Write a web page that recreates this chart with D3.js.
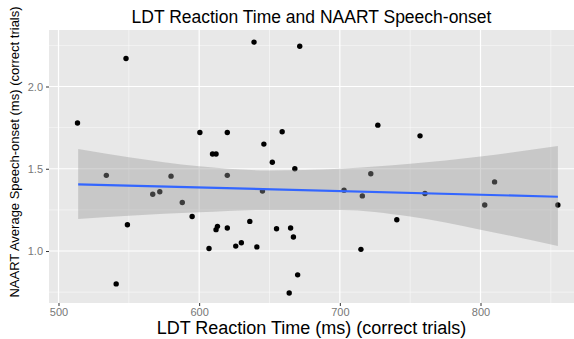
<!DOCTYPE html>
<html>
<head>
<meta charset="utf-8">
<script src="https://cdn.jsdelivr.net/npm/d3@7"></script>
<style>
  body { margin: 0; background: #fff; }
  svg { display: block; font-family: "Liberation Sans", Arial, sans-serif; }
</style>
</head>
<body>
<figure id="scatter" style="margin:0"></figure>
<script>
// LDT reaction time (ms) and NAART speech-onset, one pair per participant
const rt = [513.5, 548, 534, 549, 541, 567, 572, 580, 588, 595, 600.5, 639, 671.5, 620, 609.5, 612,
  646, 659, 652, 668, 620, 727, 722, 703, 613, 612, 620, 607, 626, 630, 636, 641, 655, 665, 667,
  670, 664, 645, 716, 715, 757, 810, 760.5, 740.5, 803, 855];
const onset = [1.778, 2.17, 1.46, 1.16, 0.80, 1.345, 1.36, 1.455, 1.295, 1.21, 1.72, 2.27, 2.245, 1.72, 1.59, 1.59,
  1.65, 1.725, 1.54, 1.50, 1.46, 1.765, 1.47, 1.37, 1.15, 1.13, 1.14, 1.015, 1.03, 1.05, 1.18, 1.025, 1.135, 1.14, 1.085,
  0.855, 0.745, 1.365, 1.335, 1.01, 1.70, 1.42, 1.35, 1.19, 1.28, 1.28];

// fitted line and confidence band
const fitX = [514, 855];
const fitY = [1.405, 1.33];
const bandX = [514, 550, 600, 650, 700, 750, 800, 855];
const bandLo = [1.195, 1.215, 1.235, 1.25, 1.25, 1.21, 1.13, 1.03];
const bandHi = [1.62, 1.57, 1.515, 1.49, 1.50, 1.53, 1.575, 1.638];

const xTicks = [500, 600, 700, 800];
const xMinor = [550, 650, 750, 850];
const yTicks = [1.0, 1.5, 2.0];
const yMinor = [0.75, 1.25, 1.75, 2.25];

const W = 574, H = 339;
const margin = { top: 30, right: 0, bottom: 36, left: 49 };
const width = W - margin.left - margin.right;
const height = H - margin.top - margin.bottom;

const svg = d3.select("figure#scatter")
  .append("svg")
  .attr("width", W)
  .attr("height", H);

const g = svg.append("g")
  .attr("transform", "translate(" + margin.left + "," + margin.top + ")");

const x = d3.scaleLinear().domain([493.25, 866.46]).range([0, width]);
const y = d3.scaleLinear().domain([0.684, 2.3435]).range([height, 0]);

// panel
g.append("rect")
  .attr("width", width)
  .attr("height", height)
  .attr("fill", "#E8E8E8");

// grid
g.selectAll(".xminor").data(xMinor).enter().append("line")
  .attr("x1", d => x(d)).attr("x2", d => x(d))
  .attr("y1", 0).attr("y2", height)
  .attr("stroke", "#fff").attr("stroke-width", 0.6).attr("opacity", 0.8);
g.selectAll(".yminor").data(yMinor).enter().append("line")
  .attr("y1", d => y(d)).attr("y2", d => y(d))
  .attr("x1", 0).attr("x2", width)
  .attr("stroke", "#fff").attr("stroke-width", 0.6).attr("opacity", 0.8);
g.selectAll(".xmajor").data(xTicks).enter().append("line")
  .attr("x1", d => x(d)).attr("x2", d => x(d))
  .attr("y1", 0).attr("y2", height)
  .attr("stroke", "#fff").attr("stroke-width", 1.2);
g.selectAll(".ymajor").data(yTicks).enter().append("line")
  .attr("y1", d => y(d)).attr("y2", d => y(d))
  .attr("x1", 0).attr("x2", width)
  .attr("stroke", "#fff").attr("stroke-width", 1.2);

// points
g.selectAll(".pt").data(rt).enter().append("circle")
  .attr("cx", d => x(d))
  .attr("cy", (d, i) => y(onset[i]))
  .attr("r", 2.7)
  .attr("fill", "#000");

// confidence band (drawn over the points, like geom_smooth)
const area = d3.area()
  .x((d, i) => x(bandX[i]))
  .y0((d, i) => y(bandLo[i]))
  .y1((d, i) => y(bandHi[i]))
  .curve(d3.curveMonotoneX);
g.append("path")
  .datum(bandX)
  .attr("d", area)
  .attr("fill", "#999999")
  .attr("fill-opacity", 0.4);

const line = d3.line()
  .x((d, i) => x(fitX[i]))
  .y((d, i) => y(fitY[i]));
g.append("path")
  .datum(fitX)
  .attr("d", line)
  .attr("fill", "none")
  .attr("stroke", "#3366FF")
  .attr("stroke-width", 2.2);

// axes
const xAxis = g.append("g")
  .attr("transform", "translate(0," + height + ")")
  .call(d3.axisBottom(x).tickValues(xTicks).tickFormat(d3.format("d")).tickSize(3).tickPadding(2));
const yAxis = g.append("g")
  .call(d3.axisLeft(y).tickValues(yTicks).tickFormat(d3.format(".1f")).tickSize(3).tickPadding(3));
[xAxis, yAxis].forEach(a => {
  a.select(".domain").remove();
  a.selectAll("line").attr("stroke", "#333").attr("stroke-width", 1);
  a.selectAll("text").attr("fill", "#777").style("font-size", "11px")
    .style("font-family", "'Liberation Sans', Arial, sans-serif");
});

// titles
svg.append("text")
  .attr("x", margin.left + width / 2)
  .attr("y", 23)
  .attr("text-anchor", "middle")
  .attr("fill", "#000")
  .style("font-size", "17.5px")
  .text("LDT Reaction Time and NAART Speech-onset");

svg.append("text")
  .attr("x", margin.left + width / 2)
  .attr("y", 334)
  .attr("text-anchor", "middle")
  .attr("fill", "#000")
  .style("font-size", "18px")
  .text("LDT Reaction Time (ms) (correct trials)");

svg.append("text")
  .attr("transform", "translate(19,152) rotate(-90)")
  .attr("text-anchor", "middle")
  .attr("fill", "#000")
  .style("font-size", "13px")
  .text("NAART Average Speech-onset (ms) (correct trials)");
</script>
</body>
</html>
